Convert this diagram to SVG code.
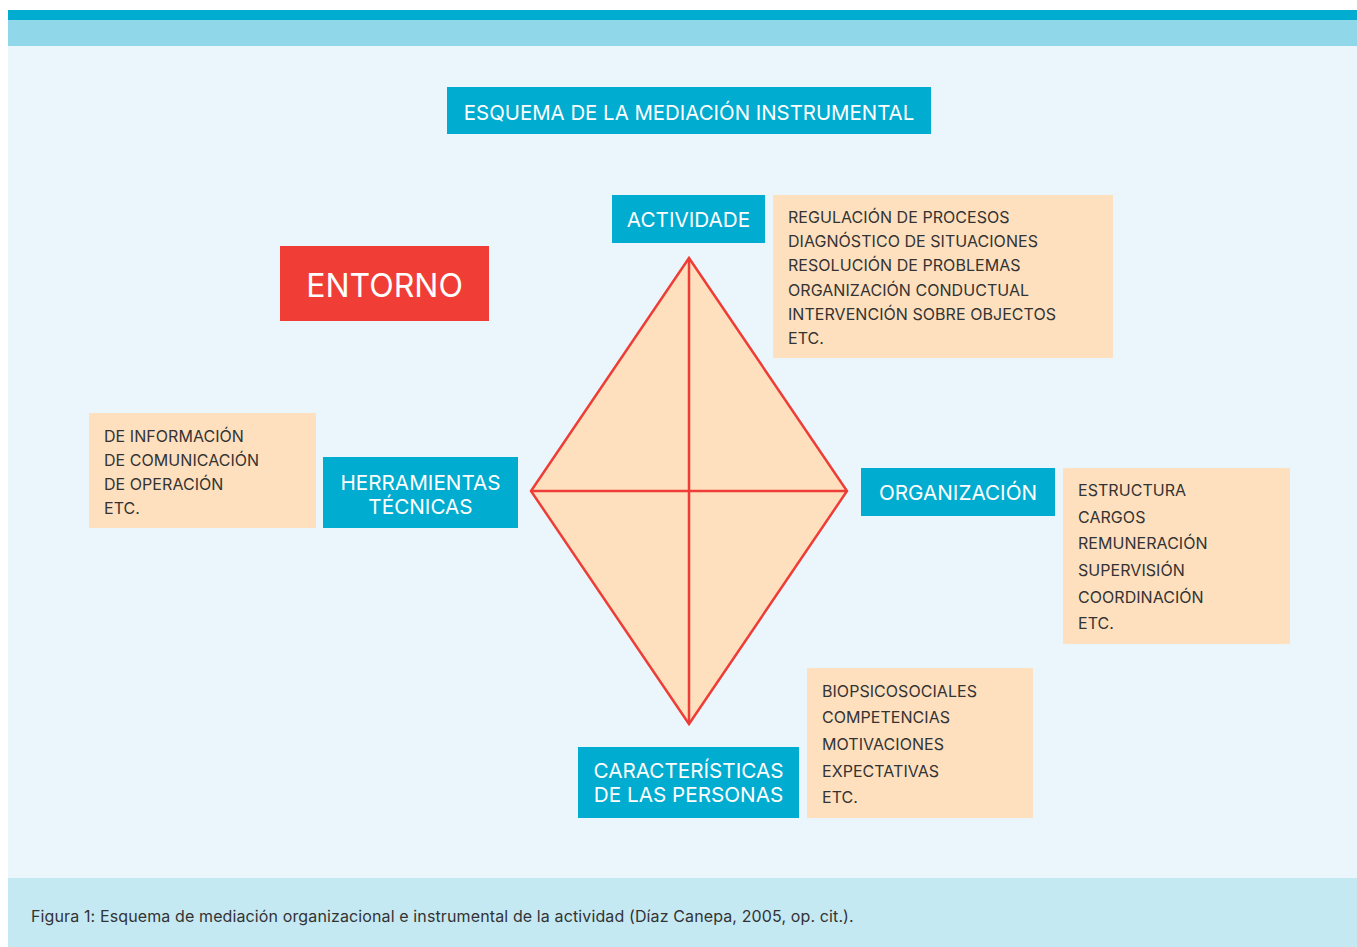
<svg xmlns="http://www.w3.org/2000/svg" width="1357" height="947" viewBox="0 0 1357 947">
<style>
.bg{fill:#eaf6fc}
.blue{fill:#00acd0}
.peach{fill:#fee0bf}
.wt{font-family:Inter,"Liberation Sans",sans-serif;fill:#ffffff;font-size:20.7px;text-anchor:middle}
.big{font-size:32px}
.ttl{font-size:20.4px}
.lt{font-family:Inter,"Liberation Sans",sans-serif;fill:#333333;font-size:16px;letter-spacing:0.05px}
.cap{font-family:Inter,"Liberation Sans",sans-serif;fill:#333333;font-size:16px;letter-spacing:0.12px}
.edge{stroke:#ee3d36;stroke-width:2.5;fill:none}
</style>
<rect x="0" y="0" width="1357" height="947" fill="#ffffff"/>
<rect x="8" y="10" width="1349" height="10" fill="#00acd0"/>
<rect x="8" y="20" width="1349" height="26" fill="#91d7ea"/>
<rect class="bg" x="8" y="46" width="1349" height="832"/>
<rect x="8" y="878" width="1349" height="69" fill="#c5e9f3"/>
<text class="cap" x="31" y="922">Figura 1: Esquema de mediación organizacional e instrumental de la actividad (Díaz Canepa, 2005, op. cit.).</text>

<g id="title">
<rect class="blue" x="447" y="87" width="484" height="47"/>
<text class="wt ttl" x="689" y="120">ESQUEMA DE LA MEDIACIÓN INSTRUMENTAL</text>
</g>

<g id="diamond">
<polygon points="689,258 847,491 689,724 531,491" fill="#fee0bf" stroke="#ee3d36" stroke-width="2.5" stroke-linejoin="miter"/>
</g>
<g id="connectors">
<line class="edge" x1="689" y1="258" x2="689" y2="724"/>
<line class="edge" x1="531" y1="491" x2="847" y2="491"/>
</g>

<g id="entorno">
<rect x="280" y="246" width="209" height="75" fill="#f03e36"/>
<text class="wt big" x="384.5" y="297">ENTORNO</text>
</g>

<g id="actividade">
<rect class="blue" x="612" y="195" width="153" height="48"/>
<text class="wt" x="688.5" y="227">ACTIVIDADE</text>
</g>
<g id="actividade-list">
<rect class="peach" x="773" y="195" width="340" height="163"/>
<text class="lt" x="788" y="223">REGULACIÓN DE PROCESOS</text>
<text class="lt" x="788" y="247">DIAGNÓSTICO DE SITUACIONES</text>
<text class="lt" x="788" y="271">RESOLUCIÓN DE PROBLEMAS</text>
<text class="lt" x="788" y="296">ORGANIZACIÓN CONDUCTUAL</text>
<text class="lt" x="788" y="320">INTERVENCIÓN SOBRE OBJECTOS</text>
<text class="lt" x="788" y="344">ETC.</text>
</g>

<g id="herramientas">
<rect class="blue" x="323" y="457" width="195" height="71"/>
<text class="wt" x="420.5" y="490">HERRAMIENTAS</text>
<text class="wt" x="420.5" y="514">TÉCNICAS</text>
</g>
<g id="herramientas-list">
<rect class="peach" x="89" y="413" width="227" height="115"/>
<text class="lt" x="104" y="442">DE INFORMACIÓN</text>
<text class="lt" x="104" y="466">DE COMUNICACIÓN</text>
<text class="lt" x="104" y="490">DE OPERACIÓN</text>
<text class="lt" x="104" y="514">ETC.</text>
</g>

<g id="organizacion">
<rect class="blue" x="861" y="468" width="194" height="48"/>
<text class="wt" x="958" y="500">ORGANIZACIÓN</text>
</g>
<g id="organizacion-list">
<rect class="peach" x="1063" y="468" width="227" height="176"/>
<text class="lt" x="1078" y="496">ESTRUCTURA</text>
<text class="lt" x="1078" y="523">CARGOS</text>
<text class="lt" x="1078" y="549">REMUNERACIÓN</text>
<text class="lt" x="1078" y="576">SUPERVISIÓN</text>
<text class="lt" x="1078" y="603">COORDINACIÓN</text>
<text class="lt" x="1078" y="629">ETC.</text>
</g>

<g id="caracteristicas">
<rect class="blue" x="578" y="747" width="221" height="71"/>
<text class="wt" x="688.5" y="778">CARACTERÍSTICAS</text>
<text class="wt" x="688.5" y="802">DE LAS PERSONAS</text>
</g>
<g id="caracteristicas-list">
<rect class="peach" x="807" y="668" width="226" height="150"/>
<text class="lt" x="822" y="697">BIOPSICOSOCIALES</text>
<text class="lt" x="822" y="723">COMPETENCIAS</text>
<text class="lt" x="822" y="750">MOTIVACIONES</text>
<text class="lt" x="822" y="777">EXPECTATIVAS</text>
<text class="lt" x="822" y="803">ETC.</text>
</g>
</svg>
